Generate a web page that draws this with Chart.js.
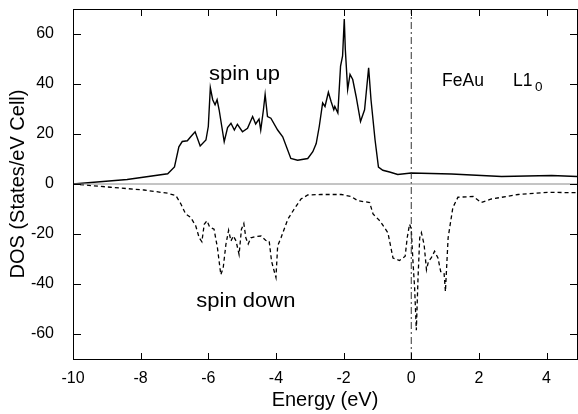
<!DOCTYPE html>
<html lang="en">
<head>
<meta charset="UTF-8">
<title>FeAu L10 DOS</title>
<script src="https://cdn.jsdelivr.net/npm/chart.js"></script>
<style>
  html, body { margin: 0; padding: 0; background: #fff; }
</style>
</head>
<body>
<canvas id="dosChart" width="578" height="414"></canvas>

<script>
    // spin up DOS (energy in eV, states/eV cell)
    const upEnergy = [-10, -9.38, -8.4, -7.2, -7.0, -6.87, -6.77, -6.62, -6.52, -6.39, -6.24, -6.07, -6.0, -5.94, -5.87, -5.8, -5.74, -5.68, -5.53, -5.43, -5.33, -5.23, -5.14, -4.99, -4.84, -4.69, -4.6, -4.5, -4.45, -4.37, -4.32, -4.25, -4.15, -3.95, -3.8, -3.56, -3.36, -3.06, -2.91, -2.81, -2.72, -2.62, -2.55, -2.45, -2.37, -2.29, -2.26, -2.17, -2.09, -2.03, -1.98, -1.95, -1.88, -1.81, -1.73, -1.63, -1.5, -1.38, -1.26, -1.19, -1.07, -0.97, -0.84, -0.64, -0.4, 0, 1.19, 2.67, 4.15, 4.9];
    const upDos = [0, 0.7, 1.8, 4.1, 6.8, 14.9, 17, 17.3, 18.9, 20.9, 15.2, 17.6, 23, 38.5, 33.7, 31.7, 33.7, 29.7, 16.9, 22.6, 24.3, 21.6, 23.9, 20.9, 22.3, 27, 24, 26, 21.6, 29.7, 35.8, 27, 26.3, 21.6, 18.9, 10.2, 9.5, 10.2, 12.9, 16.2, 23, 32.4, 31, 36.7, 33, 29.7, 31, 28.4, 47.2, 51.2, 66, 54, 37.8, 43.8, 41.8, 35, 25, 29.7, 46.5, 33.7, 17.6, 6.8, 5.5, 4.8, 3.8, 4.4, 4, 3, 3.4, 3];

    // spin down DOS
    const downEnergy = [-10, -8.89, -7.9, -7.2, -6.96, -6.81, -6.67, -6.52, -6.37, -6.27, -6.19, -6.12, -6.04, -5.96, -5.83, -5.73, -5.63, -5.56, -5.48, -5.4, -5.33, -5.26, -5.18, -5.09, -5.02, -4.95, -4.89, -4.82, -4.74, -4.63, -4.44, -4.3, -4.2, -4.13, -4.05, -4.0, -3.95, -3.85, -3.65, -3.46, -3.26, -3.06, -2.67, -2.07, -1.78, -1.58, -1.23, -1.13, -0.93, -0.69, -0.54, -0.35, -0.18, -0.12, -0.05, 0.0, 0.05, 0.1, 0.15, 0.2, 0.25, 0.3, 0.38, 0.45, 0.51, 0.59, 0.69, 0.79, 0.87, 0.97, 1.01, 1.09, 1.23, 1.38, 1.83, 2.07, 2.37, 3.16, 4.05, 4.9];
    const downDos = [0, -1.3, -2.4, -3.7, -4.6, -8, -12, -13.4, -16.8, -21.5, -23.1, -16.1, -14.7, -17.2, -18.1, -25.5, -36.3, -33.6, -24.2, -18.5, -22.8, -20.8, -22.8, -28.2, -18.1, -15.8, -21.5, -24, -21.5, -21.1, -20.8, -22.6, -22.8, -30.9, -35, -37.4, -24.8, -21.5, -14.1, -10, -6, -4.4, -4.2, -4.2, -5, -6.7, -7.4, -12, -14.7, -19.5, -29.6, -30.6, -28.9, -21.5, -16.1, -18, -30.9, -41.7, -58.5, -37.7, -21.5, -19.5, -24.2, -34.3, -30.9, -29.6, -26.9, -29.6, -35, -35.6, -43, -21.5, -9.4, -5.3, -5, -7.4, -6, -4.2, -3.3, -3.5];

    const xTicks = [-10, -8, -6, -4, -2, 0, 2, 4];
    const yTicks = [-60, -40, -20, 0, 20, 40, 60];

    const xMin = -10, xMax = 4.9;
    const yMin = -70, yMax = 70;

    const toPoints = (xs, ys) => xs.map((x, i) => ({ x: x, y: ys[i] }));

    const FONT = "'Liberation Sans', Arial, Helvetica, sans-serif";

    // box, inward ticks on all four sides and the text labels
    const framePlugin = {
        id: 'frame',
        afterDraw(chart) {
            const ctx = chart.ctx;
            const a = chart.chartArea;
            const xs = chart.scales.x, ys = chart.scales.y;
            const l = Math.round(a.left);
            const r = Math.min(Math.round(a.right), chart.canvas.width - 1);
            const t = Math.round(a.top);
            const b = Math.round(a.bottom);
            ctx.save();
            ctx.fillStyle = '#000';
            ctx.fillRect(l, t, r - l + 1, 1);
            ctx.fillRect(l, b, r - l + 1, 1);
            ctx.fillRect(l, t, 1, b - t + 1);
            ctx.fillRect(r, t, 1, b - t + 1);
            xs.ticks.forEach(tk => {
                const px = Math.round(xs.getPixelForValue(tk.value));
                ctx.fillRect(px, b - 6, 1, 6);
                ctx.fillRect(px, t + 1, 1, 6);
            });
            ys.ticks.forEach(tk => {
                const py = Math.round(ys.getPixelForValue(tk.value));
                ctx.fillRect(l + 1, py, 7, 1);
                ctx.fillRect(r - 7, py, 7, 1);
            });

            // plot annotations, the originals are a little wider than Arial
            const label = (text, x, y, size, align, stretch) => {
                const px = xs.getPixelForValue(x), py = ys.getPixelForValue(y);
                ctx.save();
                ctx.translate(px, py);
                ctx.scale(stretch, 1);
                ctx.font = size + 'px ' + FONT;
                ctx.textAlign = align;
                ctx.textBaseline = 'alphabetic';
                ctx.fillText(text, 0, 0);
                ctx.restore();
            };
            label('spin up', -4.93, 41.8, 20, 'center', 1.1);
            label('spin down', -4.89, -49.1, 20, 'center', 1.1);
            label('FeAu', 0.91, 39.1, 17.5, 'left', 1.0);
            label('L1', 3.01, 39.1, 17.5, 'left', 1.0);
            label('0', 3.66, 37.4, 13.5, 'left', 1.0);
            ctx.restore();
        }
    };

    const dosCtx = document.getElementById('dosChart').getContext('2d');

    let dosChart = new Chart(dosCtx, {
        type: 'line',
        data: {
            datasets: [{
                label: 'zero',
                data: [{ x: xMin, y: 0 }, { x: xMax, y: 0 }],
                borderColor: '#8a8a8a',
                borderWidth: 1,
                pointRadius: 0
            }, {
                label: 'Fermi level',
                data: [{ x: 0, y: yMin }, { x: 0, y: yMax }],
                borderColor: '#333',
                borderWidth: 1,
                borderDash: [7, 3, 2, 3],
                pointRadius: 0
            }, {
                label: 'spin up',
                data: toPoints(upEnergy, upDos),
                borderColor: '#000',
                borderWidth: 1.4,
                pointRadius: 0,
                tension: 0
            }, {
                label: 'spin down',
                data: toPoints(downEnergy, downDos),
                borderColor: '#000',
                borderWidth: 1.3,
                borderDash: [4, 3],
                pointRadius: 0,
                tension: 0
            }]
        },
        options: {
            responsive: false,
            animation: false,
            layout: { padding: { top: 9, right: 1, left: 0, bottom: 0 } },
            plugins: {
                legend: { display: false },
                tooltip: { enabled: false }
            },
            scales: {
                x: {
                    type: 'linear',
                    min: xMin,
                    max: xMax,
                    grid: { display: false },
                    border: { display: false },
                    afterBuildTicks(scale) { scale.ticks = xTicks.map(v => ({ value: v })); },
                    ticks: {
                        color: '#000',
                        padding: 2,
                        font: { family: FONT, size: 16 },
                        maxRotation: 0
                    },
                    title: {
                        display: true,
                        text: 'Energy (eV)',
                        color: '#000',
                        font: { family: FONT, size: 20 },
                        padding: { top: 0, bottom: 2 }
                    },
                    afterFit(scale) { scale.height = 55; }
                },
                y: {
                    min: yMin,
                    max: yMax,
                    grid: { display: false },
                    border: { display: false },
                    afterBuildTicks(scale) { scale.ticks = yTicks.map(v => ({ value: v })); },
                    ticks: {
                        color: '#000',
                        padding: 11,
                        font: { family: FONT, size: 16 }
                    },
                    title: {
                        display: true,
                        text: 'DOS (States/eV Cell)',
                        color: '#000',
                        font: { family: FONT, size: 20 },
                        padding: { top: 6, bottom: 0 }
                    },
                    afterFit(scale) {
                        scale.width = 73;
                        scale.paddingTop = 0;
                        scale.paddingBottom = 0;
                    }
                }
            }
        },
        plugins: [framePlugin]
    });
</script>
</body>
</html>
